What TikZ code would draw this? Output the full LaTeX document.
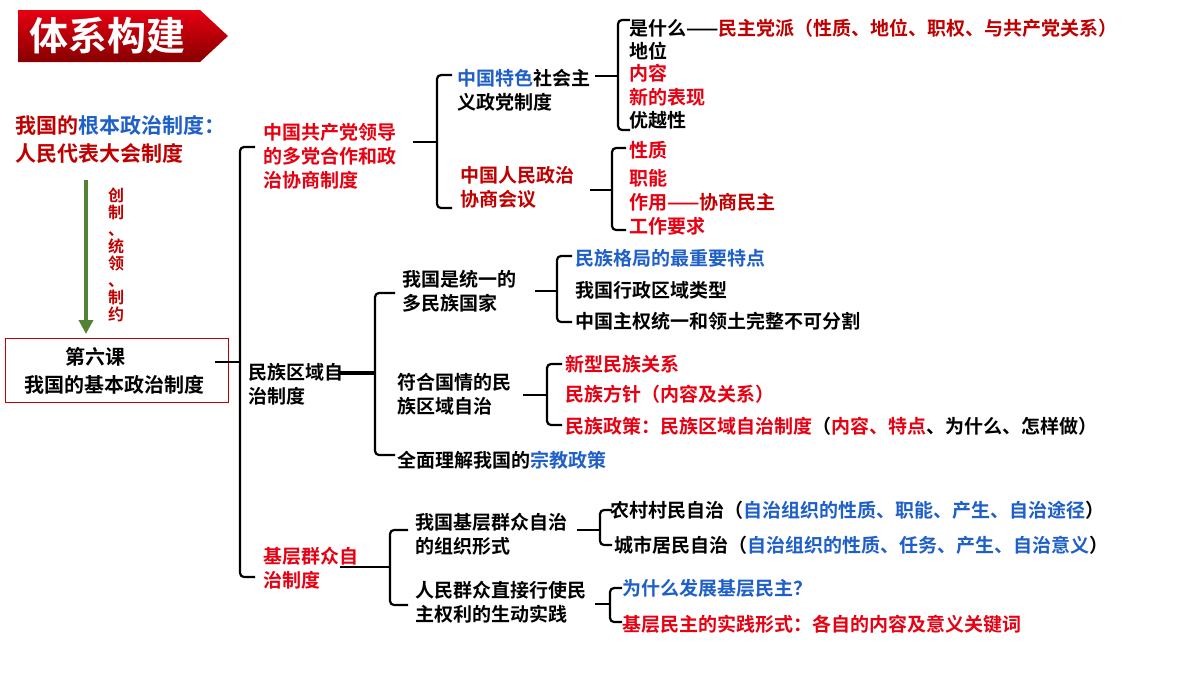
\documentclass[tikz,border=0pt]{standalone}
\usepackage{fontspec}
\setmainfont{Noto Sans CJK SC}[BoldFont={Noto Sans CJK SC Bold}]
\usetikzlibrary{arrows.meta}
\definecolor{rb}{HTML}{E60012}
\definecolor{rd}{HTML}{C00000}
\definecolor{bl}{HTML}{1F5FC8}
\definecolor{gr}{HTML}{548235}
\begin{document}
\begin{tikzpicture}[x=1pt,y=-1pt,
  t/.style={anchor=west,inner sep=0pt,font=\fontsize{19}{24}\selectfont\bfseries,align=left},
  brk/.style={line width=2.2pt,rounded corners=4pt}]
\useasboundingbox (0,0) rectangle (1200,675);
\fill[white] (0,0) rectangle (1200,675);
% title
\shade[top color=rb,bottom color=rd!70!black] (18,10) -- (200,10) -- (228,36) -- (200,62) -- (18,62) -- cycle;
\node[anchor=west,text=white,font=\fontsize{39}{42}\selectfont\bfseries] (title) at (26,36) {体系构建};
% left
\node[t,text=rd,font=\fontsize{21}{26}\selectfont\bfseries] (root1) at (15,125) {我国的\textcolor{bl}{根本政治制度：}};
\node[t,text=rd,font=\fontsize{21}{26}\selectfont\bfseries] (root2) at (15,153) {人民代表大会制度};
\draw[gr,line width=4pt,-{Triangle[length=14pt,width=14pt]}] (86,180) -- (86,334);
\node[anchor=north,inner sep=0pt,text=rd,font=\fontsize{16}{17}\selectfont\bfseries,align=center] (v) at (116,188) {创\\制\\、\\统\\领\\、\\制\\约};
\node[draw=rd,line width=1pt,minimum width=223pt,minimum height=64pt,anchor=north west,inner sep=0pt] (box) at (5,338) {};
\node[t,anchor=center,font=\fontsize{20}{24}\selectfont\bfseries] (b1) at (95,357) {第六课};
\node[t,anchor=center,font=\fontsize{20}{24}\selectfont\bfseries] (b2) at (114,385) {我国的基本政治制度};
% main bracket
\draw[brk] (255,147) -- (240,147) -- (240,577) -- (255,577);
\draw[brk] (215,362) -- (240,362);
\node[t,text=rb] (n1) at (263,156) {中国共产党领导\\的多党合作和政\\治协商制度};
\node[t] (n2) at (248,384) {民族区域自\\治制度};
\node[t,text=rb] (n3) at (263,568) {基层群众自\\治制度};
% branch 1
\draw[brk] (452,75) -- (437,75) -- (437,208) -- (452,208);
\draw[brk] (413,142) -- (437,142);
\node[t] (n11) at (457,90) {\textcolor{bl}{中国特色}社会主\\义政党制度};
\node[t,text=rd] (n12) at (460,187) {中国人民政治\\协商会议};
\draw[brk] (630,20) -- (618,20) -- (618,130) -- (630,130);
\draw[brk] (595,76) -- (618,76);
\node[t] (a1) at (629,28) {是什么——\textcolor{rd}{民主党派（性质、地位、职权、与共产党关系）}};
\node[t] (a2) at (629,51) {地位};
\node[t,text=rb] (a3) at (629,73) {内容};
\node[t,text=rb] (a4) at (629,97) {新的表现};
\node[t] (a5) at (629,120) {优越性};
\draw[brk] (626,148) -- (612,148) -- (612,230) -- (626,230);
\draw[brk] (590,190) -- (612,190);
\node[t,text=rb] (c1) at (629,150) {性质};
\node[t,text=rb] (c2) at (629,178) {职能};
\node[t,text=rb] (c3) at (629,202) {作用——\textcolor{rd}{协商民主}};
\node[t,text=rb] (c4) at (629,226) {工作要求};
% branch 2
\draw[brk] (395,293) -- (375,293) -- (375,455) -- (395,455);
\draw[brk,line width=3.5pt] (340,373) -- (375,373);
\node[t] (m1) at (402,291) {我国是统一的\\多民族国家};
\node[t] (m2) at (397,394) {符合国情的民\\族区域自治};
\node[t] (m3) at (397,460) {全面理解我国的\textcolor{bl}{宗教政策}};
\draw[brk] (572,256) -- (557,256) -- (557,322) -- (572,322);
\draw[brk] (535,291) -- (557,291);
\node[t,text=bl] (d1) at (575,258) {民族格局的最重要特点};
\node[t] (d2) at (575,290) {我国行政区域类型};
\node[t] (d3) at (575,321) {中国主权统一和领土完整不可分割};
\draw[brk] (562,364) -- (547,364) -- (547,425) -- (562,425);
\draw[brk] (523,395) -- (547,395);
\node[t,text=rb] (e1) at (565,364) {新型民族关系};
\node[t,text=rb] (e2) at (565,394) {民族方针（内容及关系）};
\node[t,text=rb] (e3) at (565,426) {民族政策：民族区域自治制度\textcolor{black}{（}内容、特点\textcolor{black}{、为什么、怎样做）}};
% branch 3
\draw[brk] (408,530) -- (390,530) -- (390,605) -- (408,605);
\draw[brk] (340,567) -- (390,567);
\node[t] (p1) at (415,534) {我国基层群众自治\\的组织形式};
\node[t] (p2) at (415,602) {人民群众直接行使民\\主权利的生动实践};
\draw[brk] (612,510) -- (600,510) -- (600,545) -- (612,545);
\draw[brk] (577,530) -- (600,530);
\node[t] (f1) at (610,510) {农村村民自治（\textcolor{bl}{自治组织的性质、职能、产生、自治途径}）};
\node[t] (f2) at (614,545) {城市居民自治（\textcolor{bl}{自治组织的性质、任务、产生、自治意义}）};
\draw[brk] (622,588) -- (610,588) -- (610,622) -- (622,622);
\draw[brk] (595,604) -- (610,604);
\node[t,text=bl] (g1) at (622,588) {为什么发展基层民主？};
\node[t,text=rb] (g2) at (622,624) {基层民主的实践形式：各自的内容及意义关键词};
\end{tikzpicture}
\end{document}
